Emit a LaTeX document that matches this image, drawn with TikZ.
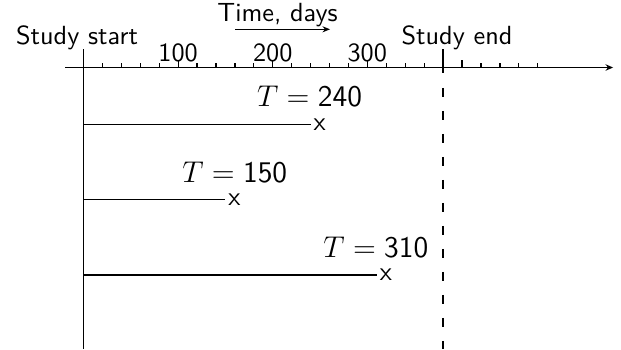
\documentclass[tikz,border=0pt]{standalone}
\usepackage{fontspec}
\usepackage{tikz}
\usetikzlibrary{arrows.meta,positioning}

\begin{document}
\begin{tikzpicture}[font=\sffamily\fontsize{10.5pt}{12pt}\selectfont]

% (1px of the sketch = 0.4pt; x in days = 0.0133cm per day)
\tikzset{
  axisline/.style={-{Stealth[length=3pt, width=2.6pt]}, line width=0.5pt},
  timearrow/.style={-{Stealth[length=3pt, width=2.4pt]}, line width=0.5pt},
  tickmark/.style={line width=0.5pt},
  followline/.style={line width=0.5pt},
  endline/.style={line width=0.5pt, dash pattern=on 3.6pt off 5.6pt},
  ticklabel/.style={inner sep=0pt},
  studylabel/.style={anchor=base, inner sep=0pt},
  tlabel/.style={font=\sffamily\large, inner sep=0pt},
  deathmark/.style={inner sep=1pt}}

\useasboundingbox (-1.174,-3.958) rectangle (7.557,0.949);

% time axis with ticks every 20 days
\coordinate (ax0) at (-0.260,0);
\coordinate (ax1) at (7.445,0);
\draw[axisline] (ax0) -- (ax1);
\foreach \d in {20,40,...,480}{
  \ifnum\d=380\else
    \pgfmathsetmacro\tickh{ifthenelse(mod(\d,100)==0,0.112,0.063)}
    \draw[tickmark] ({\d*0.0133},0) -- ++(0,\tickh);
  \fi}
\node[ticklabel] (l100) at (1.330,0.204) {100};
\node[ticklabel] (l200) at (2.660,0.204) {200};
\node[ticklabel] (l300) at (3.990,0.204) {300};

% axis title
\node[studylabel] (time) at (2.728,0.640) {Time, days};
\coordinate (ta0) at (2.130,0.537);
\coordinate (ta1) at (3.466,0.537);
\draw[timearrow] (ta0) -- (ta1);

% study start / study end
\node[studylabel] (start) at (-0.091,0.330) {Study start};
\node[studylabel] (end) at (5.251,0.330) {Study end};
\coordinate (st0) at (0,0.260);
\coordinate (st1) at (0,-3.958);
\draw[followline] (st0) -- (st1);
\coordinate (en0) at (5.054,0.260);
\coordinate (en1) at (5.054,-0.077);
\coordinate (en2) at (5.054,-0.288);
\coordinate (en3) at (5.054,-3.958);
\draw[followline] (en0) -- (en1);
\draw[endline] (en2) -- (en3);

% row 1: event at 240 days
\coordinate (s1) at (0,-0.801);
\coordinate (e1) at (3.192,-0.801);
\draw[followline] (s1) -- (e1);
\node[deathmark, right=0pt of e1] (x1) {x};
\node[tlabel] (t1) at (3.178,-0.411) {$T = \mbox{240}$};

% row 2: event at 150 days
\coordinate (s2) at (0,-1.856);
\coordinate (e2) at (1.995,-1.856);
\draw[followline] (s2) -- (e2);
\node[deathmark, right=0pt of e2] (x2) {x};
\node[tlabel] (t2) at (2.126,-1.479) {$T = \mbox{150}$};

% row 3: event at 310 days
\coordinate (s3) at (0,-2.917);
\coordinate (e3) at (4.123,-2.917);
\draw[followline] (s3) -- (e3);
\node[deathmark, right=0pt of e3] (x3) {x};
\node[tlabel] (t3) at (4.110,-2.528) {$T = \mbox{310}$};

\end{tikzpicture}
\end{document}
